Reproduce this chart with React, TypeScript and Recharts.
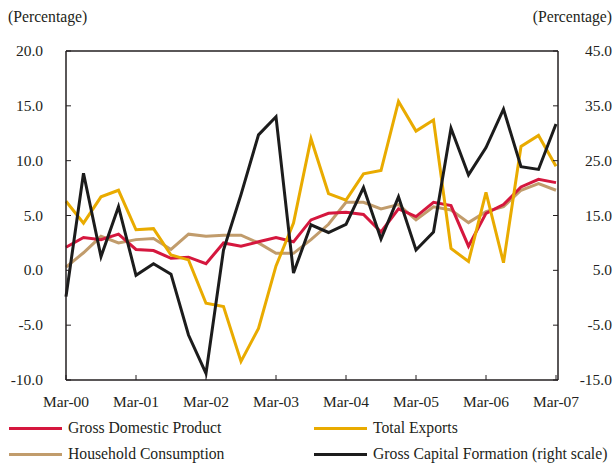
import React from 'react'
import { LineChart, Line, XAxis, YAxis, ReferenceLine } from 'recharts'

const quarters = [
  'Mar-00', 'Jun-00', 'Sep-00', 'Dec-00',
  'Mar-01', 'Jun-01', 'Sep-01', 'Dec-01',
  'Mar-02', 'Jun-02', 'Sep-02', 'Dec-02',
  'Mar-03', 'Jun-03', 'Sep-03', 'Dec-03',
  'Mar-04', 'Jun-04', 'Sep-04', 'Dec-04',
  'Mar-05', 'Jun-05', 'Sep-05', 'Dec-05',
  'Mar-06', 'Jun-06', 'Sep-06', 'Dec-06',
  'Mar-07',
]

const gdp = [2.1, 3.0, 2.8, 3.3, 1.9, 1.8, 1.1, 1.2, 0.6, 2.5, 2.2, 2.6, 3.0, 2.6, 4.6, 5.2, 5.3, 5.1, 3.5, 5.6, 4.9, 6.2, 5.9, 2.2, 5.2, 6.0, 7.6, 8.3, 8.0]
const household = [0.3, 1.6, 3.1, 2.5, 2.8, 2.9, 1.9, 3.3, 3.1, 3.2, 3.2, 2.5, 1.55, 1.55, 2.8, 4.2, 6.2, 6.2, 5.6, 6.0, 4.6, 5.8, 5.5, 4.35, 5.35, 5.8, 7.3, 7.9, 7.3]
const exportsGrowth = [6.3, 4.3, 6.7, 7.3, 3.7, 3.8, 1.4, 0.95, -3.0, -3.3, -8.3, -5.3, 0.4, 4.3, 12.0, 7.0, 6.4, 8.8, 9.1, 15.4, 12.7, 13.7, 2.0, 0.8, 7.1, 0.7, 11.3, 12.3, 9.5]
const capitalFormation = [0.2, 22.7, 7.5, 16.6, 4.1, 6.2, 4.3, -6.8, -13.8, 8.7, 18.8, 29.7, 33.0, 4.5, 13.3, 11.9, 13.4, 20.1, 10.7, 18.4, 8.7, 12.0, 30.9, 22.4, 27.4, 34.4, 23.9, 23.4, 31.7]

const leftTicks = [-10, -5, 0, 5, 10, 15, 20]
const rightTicks = [-15, -5, 5, 15, 25, 35, 45]

const data = quarters.map((q, i) => ({
  quarter: q,
  gdp: gdp[i],
  household: household[i],
  exports: exportsGrowth[i],
  gcf: capitalFormation[i],
}))

const FONT = '"Liberation Serif", "Times New Roman", serif'
const INK = '#231f20'
const RED = '#d5173e'
const GOLD = '#e9ab00'
const TAN = '#c19c6c'
const BLACK = '#1c1c1c'

const LeftTick = (props: any) => {
  const { x, y, payload } = props
  return (
    <g>
      <line x1={x} x2={x + 5} y1={y} y2={y} stroke={INK} strokeWidth={1} />
      <text x={x - 23} y={y} dy={5} textAnchor="end" fontFamily={FONT} fontSize={15.5} fill={INK}>
        {Number(payload.value).toFixed(1)}
      </text>
    </g>
  )
}

const RightTick = (props: any) => {
  const { x, y, payload } = props
  return (
    <g>
      <line x1={x - 5} x2={x} y1={y} y2={y} stroke={INK} strokeWidth={1} />
      <text x={x + 54} y={y} dy={5} textAnchor="end" fontFamily={FONT} fontSize={15.5} fill={INK}>
        {Number(payload.value).toFixed(1)}
      </text>
    </g>
  )
}

const BottomTick = (props: any) => {
  const { x, y, payload } = props
  return (
    <g>
      <line x1={x} x2={x} y1={y - 5} y2={y} stroke={INK} strokeWidth={1} />
      <text x={x} y={y + 27} textAnchor="middle" fontFamily={FONT} fontSize={15.5} fill={INK}>
        {payload.value}
      </text>
    </g>
  )
}

const legendItems = [
  { label: 'Gross Domestic Product', color: RED, left: 9, top: 428 },
  { label: 'Total Exports', color: GOLD, left: 314, top: 428 },
  { label: 'Household Consumption', color: TAN, left: 9, top: 454 },
  { label: 'Gross Capital Formation (right scale)', color: BLACK, left: 314, top: 454 },
]

export default function App() {
  return (
    <div style={{ position: 'absolute', left: 0, top: 0, width: 616, height: 464, background: '#fff', fontFamily: FONT }}>
      <div style={{ position: 'absolute', left: 8, top: 8, fontSize: 15.7, color: INK }}>(Percentage)</div>
      <div style={{ position: 'absolute', right: 4, top: 8, fontSize: 15.7, color: INK }}>(Percentage)</div>
      <LineChart width={616} height={464} data={data} margin={{ top: 51, right: 0, bottom: 0, left: 0 }}>
        <XAxis
          dataKey="quarter"
          interval={3}
          height={84}
          tickSize={0}
          tickMargin={0}
          tickLine={false}
          tick={<BottomTick />}
          stroke={INK}
          strokeWidth={1.5}
          padding={{ left: 0, right: 2 }}
        />
        <YAxis
          yAxisId="left"
          orientation="left"
          width={66}
          domain={[-10, 20]}
          ticks={leftTicks}
          tickSize={0}
          tickMargin={0}
          tickLine={false}
          tick={<LeftTick />}
          stroke={INK}
          strokeWidth={1.5}
          allowDataOverflow
        />
        <YAxis
          yAxisId="right"
          orientation="right"
          width={58}
          domain={[-15, 45]}
          ticks={rightTicks}
          tickSize={0}
          tickMargin={0}
          tickLine={false}
          tick={<RightTick />}
          stroke={INK}
          strokeWidth={1.5}
          allowDataOverflow
        />
        <ReferenceLine yAxisId="left" y={20} stroke={INK} strokeWidth={1.5} />
        <Line yAxisId="left" type="linear" dataKey="household" stroke={TAN} strokeWidth={3} dot={false} isAnimationActive={false} />
        <Line yAxisId="left" type="linear" dataKey="gdp" stroke={RED} strokeWidth={3} dot={false} isAnimationActive={false} />
        <Line yAxisId="left" type="linear" dataKey="exports" stroke={GOLD} strokeWidth={3} dot={false} isAnimationActive={false} />
        <Line yAxisId="right" type="linear" dataKey="gcf" stroke={BLACK} strokeWidth={3} dot={false} isAnimationActive={false} />
      </LineChart>
      {legendItems.map(item => (
        <div
          key={item.label}
          style={{ position: 'absolute', left: item.left, top: item.top - 10, height: 20, display: 'flex', alignItems: 'center', fontSize: 15.7, color: INK, whiteSpace: 'nowrap' }}
        >
          <span style={{ display: 'inline-block', width: 53, height: 3, background: item.color, marginRight: 6 }} />
          <span>{item.label}</span>
        </div>
      ))}
    </div>
  )
}
